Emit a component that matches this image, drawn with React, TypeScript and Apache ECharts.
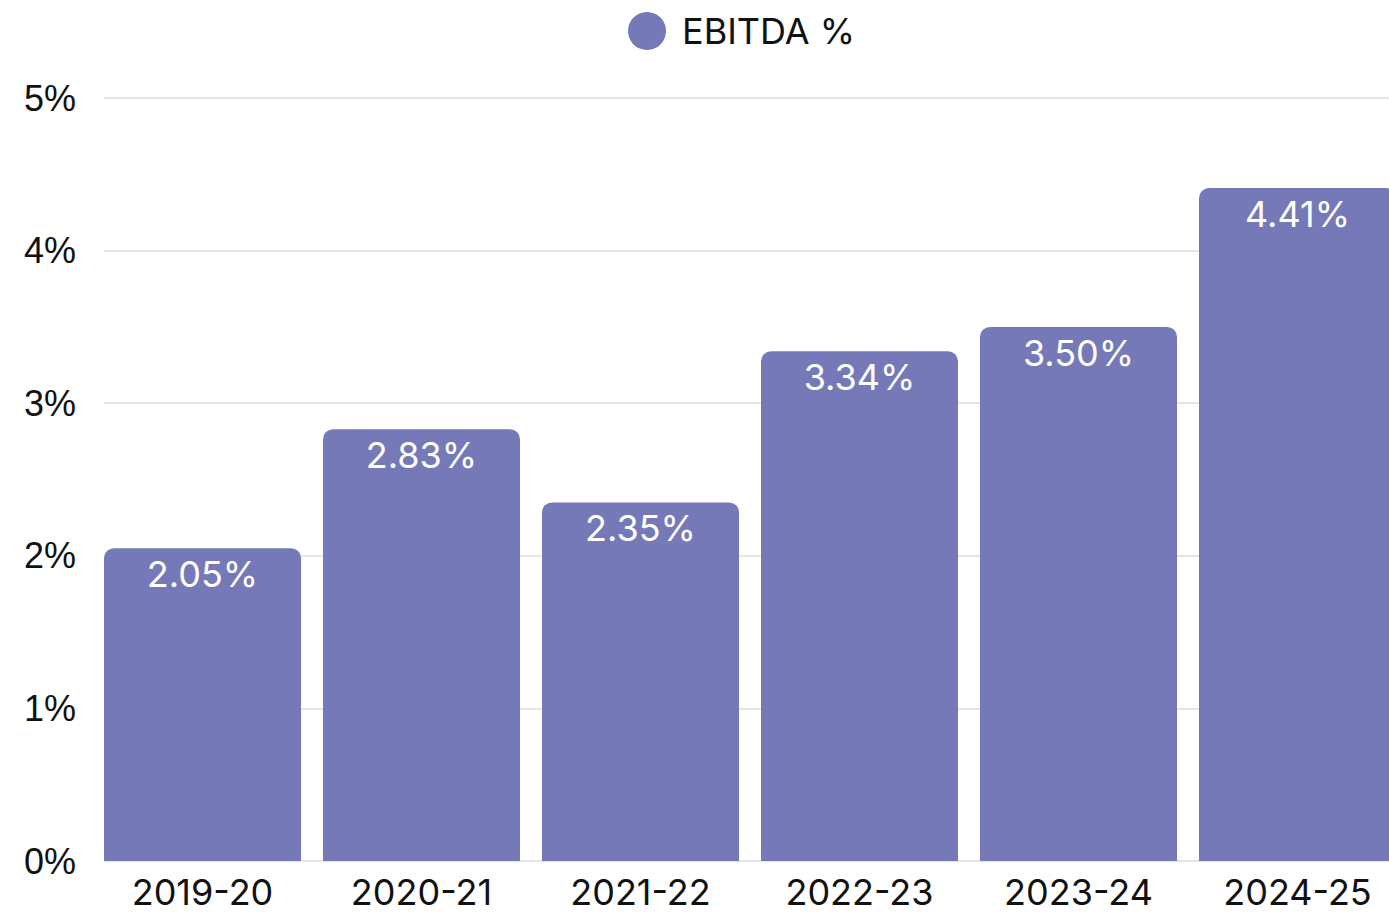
import React, { useEffect, useRef } from "react";
import * as echarts from "echarts";

const categories = ["2019-20", "2020-21", "2021-22", "2022-23", "2023-24", "2024-25"];
const ebitda = [2.05, 2.83, 2.35, 3.34, 3.5, 4.41];
const seriesName = "EBITDA %";
const yMin = 0;
const yMax = 5;
const yInterval = 1;

export default function App() {
  const ref = useRef<HTMLDivElement>(null);
  useEffect(() => {
    if (!ref.current) return;
    const chart = echarts.init(ref.current, null, { renderer: "svg" });
    chart.setOption({
      animation: false,
      backgroundColor: "#ffffff",
      legend: {
        data: [{ name: seriesName, icon: "circle" }],
        left: 623,
        top: 7,
        itemWidth: 38,
        itemHeight: 38,
        textStyle: {
          fontFamily: "Inter",
          fontSize: 36,
          color: "#111111",
          padding: [0, 0, 0, 11],
        },
      },
      grid: [
        { left: 104, right: 0, top: 98, bottom: 55 },
        { left: 93, width: 1314, top: 98, bottom: 55 },
      ],
      xAxis: [
        { type: "category", gridIndex: 0, data: categories, show: false },
        {
          type: "category",
          gridIndex: 1,
          data: categories,
          axisLine: { show: false },
          axisTick: { show: false },
          axisLabel: {
            fontFamily: "Inter",
            fontSize: 36,
            color: "#111111",
            margin: 13,
          },
        },
      ],
      yAxis: [
        {
          type: "value",
          gridIndex: 0,
          min: yMin,
          max: yMax,
          interval: yInterval,
          axisLine: { show: false },
          axisTick: { show: false },
          splitLine: { lineStyle: { color: "#dddddd", width: 1.5 } },
          axisLabel: {
            formatter: "{value}%",
            fontFamily: "Liberation Sans",
            fontSize: 36,
            color: "#111111",
            margin: 28,
          },
        },
        {
          type: "value",
          gridIndex: 1,
          min: yMin,
          max: yMax,
          interval: yInterval,
          show: false,
          splitLine: { show: false },
        },
      ],
      series: [
        {
          name: seriesName,
          type: "bar",
          xAxisIndex: 1,
          yAxisIndex: 1,
          data: ebitda,
          barWidth: 197,
          itemStyle: { color: "#7679b8", borderRadius: [10, 10, 0, 0] },
          label: {
            show: true,
            position: "insideTop",
            distance: 8,
            formatter: (p: any) => p.value.toFixed(2) + "%",
            fontFamily: "Inter",
            fontSize: 36,
            color: "#ffffff",
          },
        },
      ],
    });
    return () => chart.dispose();
  }, []);
  return (
    <div style={{ position: "absolute", left: 0, top: 0, width: 1389, height: 916, overflow: "hidden" }}>
      <div ref={ref} style={{ width: 1420, height: 916 }} />
    </div>
  );
}
